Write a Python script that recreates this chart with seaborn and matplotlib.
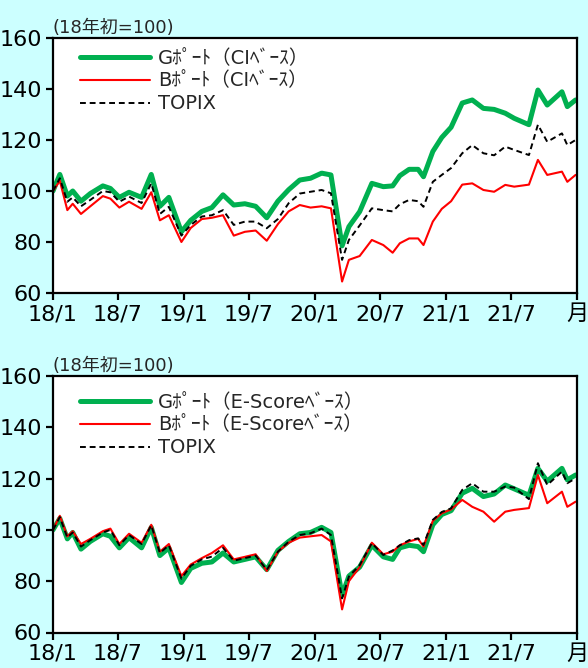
import os
import numpy as np
import pandas as pd
import matplotlib
matplotlib.use("Agg")
import matplotlib.pyplot as plt
from matplotlib import font_manager as fm
import seaborn as sns

# ---- data ----
dates = ["2018-01-01", "2018-01-20", "2018-02-10", "2018-02-25", "2018-03-20", "2018-04-15",
         "2018-05-20", "2018-06-10", "2018-07-05", "2018-08-01", "2018-09-05", "2018-10-02",
         "2018-10-26", "2018-11-20", "2018-12-25", "2019-01-20", "2019-02-20", "2019-03-20",
         "2019-04-20", "2019-05-20", "2019-06-20", "2019-07-20", "2019-08-20", "2019-09-20",
         "2019-10-20", "2019-11-20", "2019-12-20", "2020-01-20", "2020-02-15", "2020-03-17",
         "2020-04-05", "2020-05-05", "2020-06-08", "2020-07-10", "2020-08-05", "2020-08-25",
         "2020-09-20", "2020-10-15", "2020-10-30", "2020-11-25", "2020-12-20", "2021-01-15",
         "2021-02-15", "2021-03-15", "2021-04-15", "2021-05-15", "2021-06-15", "2021-07-10",
         "2021-08-20", "2021-09-14", "2021-10-10", "2021-11-20", "2021-12-05", "2021-12-28"]

# top panel (CI base)
g_ci = [100, 106.5, 98, 100, 96, 99, 102, 101, 97.5, 99.5, 97.5, 106.5,
        94, 97.5, 84, 88.5, 92, 93.5, 98.5, 94.5, 95, 94, 89.5, 96,
        100.5, 104.3, 105, 107, 106.3, 78.5, 86, 91.9, 103, 101.7, 102, 106,
        108.5, 108.5, 105.6, 115.5, 121, 125, 134.5, 135.7, 132.4, 132, 130.5, 128.5,
        126, 139.6, 133.7, 138.9, 133.1, 135.7]
b_ci = [100, 104, 92.5, 95, 91, 94, 98, 97, 93.5, 95.8, 93, 99.5,
        88.5, 90.5, 80, 85.5, 89, 89.5, 90.5, 82.5, 84, 84.5, 80.5, 87,
        92, 94.5, 93.5, 94, 93.2, 64.5, 73, 74.5, 80.8, 78.8, 75.8, 79.5,
        81.4, 81.4, 78.8, 88, 93, 96, 102.5, 103, 100.4, 99.7, 102.4, 101.7,
        102.5, 112.2, 106.3, 107.6, 103.6, 106.3]
t_ci = [100, 105, 95.8, 97.5, 94, 96.5, 100, 99.5, 95.8, 97.8, 95.3, 103,
        91, 93.8, 82.5, 86.7, 90, 90.5, 92.5, 86.7, 88, 88, 85.4, 89,
        95.2, 99, 99.7, 100.4, 99.1, 73, 80.8, 86.5, 93.2, 92.5, 92, 94.8,
        96.5, 96, 93.8, 103.6, 106.3, 109, 114.8, 118, 114.8, 114, 117.4, 116.1,
        114.1, 126, 119.3, 122.6, 118, 120]

# bottom panel (E-Score base)
g_es = [100, 104.5, 96.5, 99, 92.5, 95.5, 98.5, 97.5, 93, 97, 93, 101,
        90, 93, 79.5, 85, 87, 87.5, 91, 87.5, 88.5, 89.5, 84.5, 92,
        95.5, 98.5, 99, 101, 99, 74.5, 82, 85.5, 94, 89.5, 88.5, 93,
        94, 93.5, 91.5, 102, 106, 107.5, 114.3, 116.2, 113, 114, 117.5, 116,
        113.5, 124, 119, 124, 119.5, 121.4]
b_es = [100, 105.5, 97.5, 99.5, 94.5, 96.5, 99.5, 100.5, 94.5, 98.5, 95, 102,
        91.5, 94.5, 82, 86.5, 89, 91, 94, 88.5, 89.5, 90.5, 84, 91.5,
        95, 97, 97.5, 98, 95.5, 69, 80, 85.5, 95, 90.5, 91.5, 94,
        95.5, 96.5, 93.5, 103.5, 106.5, 108, 111.7, 109, 107.1, 103.2, 107.1, 107.8,
        108.5, 121.4, 110.4, 114.9, 109, 111]
t_es = [100, 105, 97, 99, 93.5, 96, 99, 100, 94, 98, 94.5, 101.8,
        91, 94, 81, 86, 88.5, 89.6, 93, 88, 89, 90, 84.4, 91.5,
        95.4, 98, 98.7, 100.5, 98, 73.3, 81.8, 86.3, 94.8, 90.2, 92, 94,
        96, 96.7, 94.1, 103.9, 107, 108.4, 115.6, 118.2, 114.9, 114.9, 116.9, 116.5,
        112, 126, 117.5, 122.7, 118.2, 120.1]

labels_top = ["Gﾎﾟｰﾄ（CIﾍﾞｰｽ）", "Bﾎﾟｰﾄ（CIﾍﾞｰｽ）", "TOPIX"]
labels_bot = ["Gﾎﾟｰﾄ（E-Scoreﾍﾞｰｽ）", "Bﾎﾟｰﾄ（E-Scoreﾍﾞｰｽ）", "TOPIX"]
y_ticks = [60, 80, 100, 120, 140, 160]
x_tick_dates = ["2018-01-01", "2018-07-01", "2019-01-01", "2019-07-01", "2020-01-01",
                "2020-07-01", "2021-01-01", "2021-07-01", "2022-01-01"]
x_tick_labels = ["18/1", "18/7", "19/1", "19/7", "20/1", "20/7", "21/1", "21/7", "月"]
unit_label = "(18年初=100)"

# ---- fonts: look for a narrow latin face ----
narrow_family = None
wanted = ["LiberationSansNarrow-Regular", "DejaVuSansCondensed.ttf", "Roboto_Condensed",
          "RobotoCondensed-Regular", "OpenSans_Condensed", "OpenSans-CondensedRegular"]
try:
    files = fm.findSystemFonts()
    for key in wanted:
        hits = [f for f in files if key.lower() in os.path.basename(f).lower()]
        if hits:
            fm.fontManager.addfont(hits[0])
            narrow_family = fm.FontProperties(fname=hits[0]).get_name()
            break
except Exception:
    narrow_family = None

sns.set_style("ticks")
fams = ([narrow_family] if narrow_family else []) + ["Liberation Sans", "Noto Sans CJK JP",
                                                      "DejaVu Sans"]
plt.rcParams["font.family"] = fams

BG = "#CCFFFF"
GREEN = "#00B050"
RED = "#FF0000"

fig = plt.figure(figsize=(5.88, 6.68), dpi=100, facecolor=BG)
ax1 = fig.add_axes([53 / 588, 1 - 293 / 668, 524 / 588, 255 / 668])
ax2 = fig.add_axes([53 / 588, 1 - 632.5 / 668, 524 / 588, 256.5 / 668])

d = pd.to_datetime(dates)


def draw(ax, g, b, t, labels, leg_y):
    df = pd.DataFrame({"date": d, "g": g, "b": b, "t": t})
    sns.lineplot(data=df, x="date", y="g", ax=ax, color=GREEN, lw=3.6, label=labels[0])
    sns.lineplot(data=df, x="date", y="b", ax=ax, color=RED, lw=1.5, label=labels[1])
    sns.lineplot(data=df, x="date", y="t", ax=ax, color="black", lw=1.4,
                 linestyle=(0, (3.0, 2.0)), label=labels[2])
    ax.set_facecolor("white")
    ax.set_xlim(pd.Timestamp("2018-01-01"), pd.Timestamp("2022-01-01"))
    ax.set_ylim(60, 160)
    ax.set_yticks(y_ticks)
    ax.set_xticks(pd.to_datetime(x_tick_dates))
    ax.set_xticklabels(x_tick_labels)
    ax.set_xlabel("")
    ax.set_ylabel("")
    for s in ax.spines.values():
        s.set_visible(True)
        s.set_color("black")
        s.set_linewidth(1.6)
    ax.tick_params(axis="both", direction="out", length=5, width=1.6,
                   labelsize=16, colors="black", pad=3)
    ax.text(0.0, 1.005, unit_label, transform=ax.transAxes, ha="left", va="bottom",
            fontsize=13)
    ax.legend(loc="upper left", bbox_to_anchor=(0.052, leg_y), frameon=False,
              fontsize=14, handlelength=3.6, handletextpad=0.4,
              labelspacing=0.2, borderaxespad=0, borderpad=0)


draw(ax1, g_ci, b_ci, t_ci, labels_top, 0.958)
draw(ax2, g_es, b_es, t_es, labels_bot, 0.935)

fig.savefig("out.png", dpi=100, facecolor=BG)
